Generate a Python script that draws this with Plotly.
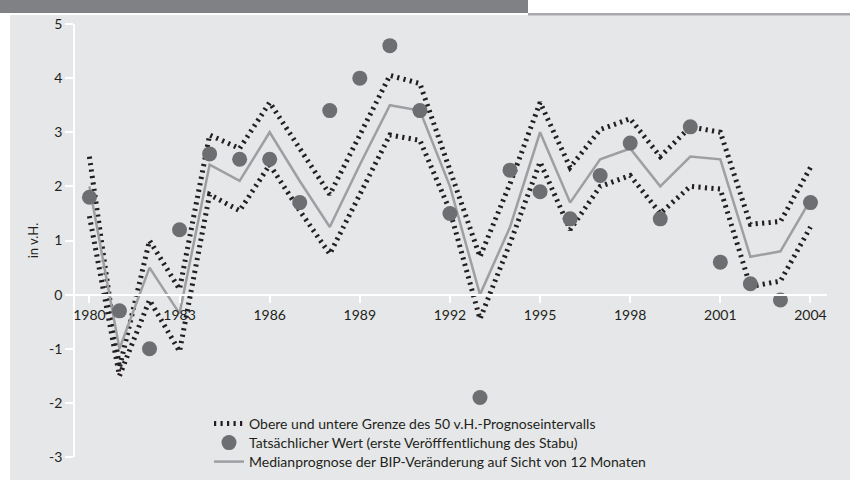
import plotly.graph_objects as go

years = list(range(1980, 2005))
actual = [1.8, -0.3, -1.0, 1.2, 2.6, 2.5, 2.5, 1.7, 3.4, 4.0, 4.6, 3.4, 1.5, -1.9, 2.3,
          1.9, 1.4, 2.2, 2.8, 1.4, 3.1, 0.6, 0.2, -0.1, 1.7]
median = [2.0, -1.0, 0.5, -0.35, 2.4, 2.1, 3.0, 2.1, 1.25, 2.4, 3.5, 3.4, 2.0, 0.0, 1.25,
          3.0, 1.7, 2.5, 2.7, 2.0, 2.55, 2.5, 0.7, 0.8, 1.75]
upper = [2.55, -1.35, 1.0, 0.1, 2.95, 2.7, 3.55, 2.7, 1.85, 2.95, 4.05, 3.9, 2.3, 0.7, 2.05,
         3.55, 2.35, 3.05, 3.25, 2.55, 3.1, 3.0, 1.3, 1.35, 2.35]
lower = [1.45, -1.5, -0.1, -1.05, 1.85, 1.55, 2.4, 1.55, 0.75, 1.85, 2.95, 2.85, 1.55, -0.45, 0.95,
         2.45, 1.2, 2.0, 2.2, 1.5, 2.0, 1.95, 0.15, 0.25, 1.25]
x_ticks = [1980, 1983, 1986, 1989, 1992, 1995, 1998, 2001, 2004]
y_ticks = [-3, -2, -1, 0, 1, 2, 3, 4, 5]

name_band = "Obere und untere Grenze des 50 v.H.-Prognoseintervalls"
name_actual = "Tatsächlicher Wert (erste Veröfffentlichung des Stabu)"
name_median = "Medianprognose der BIP-Veränderung auf Sicht von 12 Monaten"

FONT = "Lato"
dot_line = dict(color="#231f20", width=5, dash="2.2px,4.3px")

fig = go.Figure()
fig.add_trace(go.Scatter(x=years, y=upper, mode="lines", line=dot_line,
                         name=name_band, legend="legend"))
fig.add_trace(go.Scatter(x=years, y=lower, mode="lines", line=dot_line,
                         name=name_band, showlegend=False))
fig.add_trace(go.Scatter(x=years, y=median, mode="lines",
                         line=dict(color="#9d9fa2", width=2.5),
                         name=name_median, legend="legend3"))
fig.add_trace(go.Scatter(x=years, y=actual, mode="markers",
                         marker=dict(color="#6d6e71", size=15),
                         name=name_actual, legend="legend2"))

W, H = 850, 480
ml, mr, mt, mb = 75, 23, 24, 23
pw, ph = W - ml - mr, H - mt - mb

def px_x(p):
    return (p - ml) / pw

def px_y(p):
    return (H - mb - p) / ph

shapes = [
    dict(type="rect", xref="paper", yref="paper", x0=px_x(10), x1=px_x(860),
         y0=px_y(490), y1=px_y(15), fillcolor="#e6e7e8", line=dict(width=0), layer="below"),
    dict(type="rect", xref="paper", yref="paper", x0=px_x(-10), x1=px_x(528),
         y0=px_y(13), y1=px_y(-10), fillcolor="#808184", line=dict(width=0), layer="below"),
    dict(type="rect", xref="paper", yref="paper", x0=px_x(528), x1=px_x(860),
         y0=px_y(15.5), y1=px_y(13), fillcolor="#a7a9ac", line=dict(width=0), layer="below"),
]

def leg(row_px):
    return dict(x=px_x(209), y=px_y(row_px), xanchor="left", yanchor="middle",
                bgcolor="rgba(0,0,0,0)", font=dict(family=FONT, size=14, color="#231f20"),
                itemwidth=30)

fig.update_layout(
    width=W, height=H,
    margin=dict(l=ml, r=mr, t=mt, b=mb, pad=0, autoexpand=False),
    paper_bgcolor="white",
    plot_bgcolor="rgba(0,0,0,0)",
    font=dict(family=FONT, size=14, color="#231f20"),
    shapes=shapes,
    showlegend=True,
    legend=leg(424),
    legend2=leg(443),
    legend3=leg(462),
    xaxis=dict(range=[1979.52, 2004.55], tickmode="array", tickvals=x_ticks,
               ticktext=[str(v) for v in x_ticks],
               showgrid=False, zeroline=False, showline=True, linecolor="white",
               linewidth=1.5, ticks="outside", ticklen=8, tickcolor="white", tickwidth=1.5,
               anchor="free", position=3 / 8,
               tickfont=dict(family=FONT, size=14, color="#231f20")),
    yaxis=dict(range=[-3, 5], tickmode="array", tickvals=y_ticks,
               ticktext=[str(v) for v in y_ticks],
               showgrid=False, zeroline=False, showline=True, linecolor="white",
               linewidth=1.5, ticks="outside", ticklen=8, tickcolor="white", tickwidth=1.5,
               tickfont=dict(family=FONT, size=14, color="#231f20"),
               title=dict(text="in v.H.", standoff=8,
                          font=dict(family=FONT, size=13, color="#231f20"))),
)

fig.write_html("out.html", config={"displayModeBar": False},
               post_script="document.body.style.margin='0';document.body.style.overflow='hidden';")
